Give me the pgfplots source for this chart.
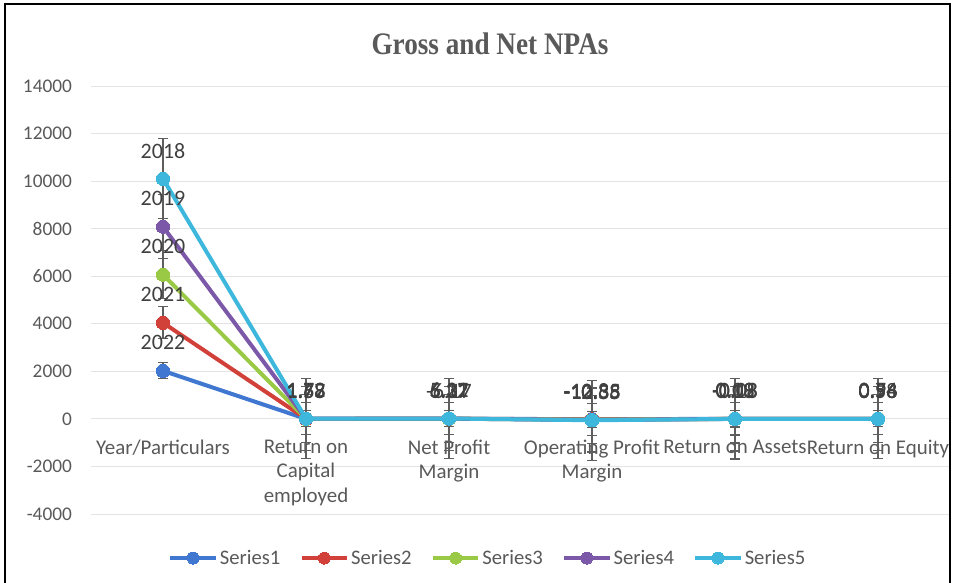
\documentclass[border=0pt]{standalone}
\usepackage{pgfplots}
\pgfplotsset{compat=1.18}
\usepackage{pgfplotstable}
\usepackage{graphicx}
\usepackage{fontspec}
\setmainfont{Carlito}
\newfontfamily\titlefont{Liberation Serif}
\definecolor{sA}{HTML}{4077D0}
\definecolor{sB}{HTML}{D2403A}
\definecolor{sC}{HTML}{9ACA45}
\definecolor{sD}{HTML}{7C58A8}
\definecolor{sE}{HTML}{3DB7DC}
\definecolor{tickc}{HTML}{595959}
\definecolor{lablc}{HTML}{404040}
\definecolor{gridc}{HTML}{E3E3E3}
\definecolor{errc}{HTML}{5E5E5E}
\definecolor{titlec}{HTML}{595959}

% cumulative (stacked) values, individual values as labels, standard-error bars
\pgfplotstableread{
x y lab err
0 2022 2022 337
1 1.78 1.78 337
2 6.37 6.37 337
3 -10.85 -10.85 337
4 0.18 0.18 337
5 0.96 0.96 337
}\sA
\pgfplotstableread{
x y lab err
0 4043 2021 674
1 3.51 1.73 674
2 11.68 5.31 674
3 -23.18 -12.33 674
4 0.15 -0.03 674
5 1.50 0.54 674
}\sB
\pgfplotstableread{
x y lab err
0 6063 2020 1011
1 5.23 1.72 1011
2 5.51 -6.17 1011
3 -33.56 -10.38 1011
4 0.28 0.13 1011
5 2.24 0.74 1011
}\sC
\pgfplotstableread{
x y lab err
0 8082 2019 1348
1 6.90 1.67 1348
2 11.63 6.12 1348
3 -46.11 -12.55 1348
4 0.37 0.09 1348
5 2.80 0.56 1348
}\sD
\pgfplotstableread{
x y lab err
0 10100 2018 1685
1 8.48 1.58 1685
2 16.90 5.27 1685
3 -56.46 -10.35 1685
4 0.19 -0.18 1685
5 3.78 0.98 1685
}\sE

\pgfplotsset{
  ser/.style={
    draw=#1, line width=3pt, mark=*, mark size=5pt,
    mark options={solid, draw=#1, fill=#1, line width=0pt},
    point meta=explicit symbolic,
    nodes near coords,
    every node near coord/.append style={font=\fontsize{16.5}{19}\selectfont, text=lablc, anchor=center, yshift=21pt, inner sep=0pt},
    error bars/.cd,
      y dir=both, y explicit,
      error bar style={line width=0.9pt, draw=errc},
      error mark options={draw=errc, line width=0.9pt, mark size=3.75pt, rotate=90},
  }
}

\begin{document}
\begin{tikzpicture}
\useasboundingbox (0,0) rectangle (716.25pt,-436.5pt);
\begin{axis}[
  at={(68.625pt,-385.5pt)}, anchor=south west,
  scale only axis, width=643.5pt, height=321pt,
  xmin=-0.5, xmax=5.5, ymin=-4000, ymax=14000,
  ytick={-4000,-2000,...,14000},
  xtick={0,...,5},
  xticklabels={Year/Particulars,{Return on\\Capital\\employed},{Net Profit\\Margin},{Operating Profit\\Margin},Return on Assets,Return on Equity},
  axis x line=middle, axis y line=left,
  x axis line style={-, draw=gridc, line width=0.75pt},
  y axis line style={draw=none},
  hide obscured y ticks=false,
  hide obscured x ticks=false,
  xtick style={draw=none}, ytick style={draw=none},
  ymajorgrids, grid style={draw=gridc, line width=0.75pt},
  yticklabel style={font=\fontsize{14.5}{18.4}\selectfont, text=tickc, anchor=east, xshift=-9pt},
  xticklabel style={font=\fontsize{15.7}{18.4}\selectfont, text=tickc, align=center, anchor=north, yshift=-10pt},
  scaled y ticks=false,
  /pgf/number format/1000 sep={},
  /pgf/number format/assume math mode=true,
  clip=false,
  legend columns=5,
  legend style={at={(0.462,-0.103)}, anchor=center, draw=none, fill=none,
    font=\fontsize{15.5}{18}\selectfont, text=tickc,
    nodes={inner sep=1.5pt},
    /tikz/every even column/.append style={column sep=13pt}},
  legend image code/.code={\draw[mark repeat=2,mark phase=2,#1,mark size=4.5pt] plot coordinates {(0pt,0pt) (17pt,0pt) (34pt,0pt)};},
]
\addplot[ser=sA] table[x=x,y=y,y error=err,meta=lab]{\sA};
\addlegendentry{Series1}
\addplot[ser=sB] table[x=x,y=y,y error=err,meta=lab]{\sB};
\addlegendentry{Series2}
\addplot[ser=sC] table[x=x,y=y,y error=err,meta=lab]{\sC};
\addlegendentry{Series3}
\addplot[ser=sD] table[x=x,y=y,y error=err,meta=lab]{\sD};
\addlegendentry{Series4}
\addplot[ser=sE] table[x=x,y=y,y error=err,meta=lab]{\sE};
\addlegendentry{Series5}
\end{axis}
\node[font=\titlefont\bfseries\fontsize{20.4}{24}\selectfont, text=titlec] at (367.5pt,-33pt) {\scalebox{1}[1.15]{Gross and Net NPAs}};
\draw[line width=1.5pt] (3.75pt,-440pt) -- (3.75pt,-3pt) -- (712.5pt,-3pt) -- (712.5pt,-440pt);
\end{tikzpicture}
\end{document}
